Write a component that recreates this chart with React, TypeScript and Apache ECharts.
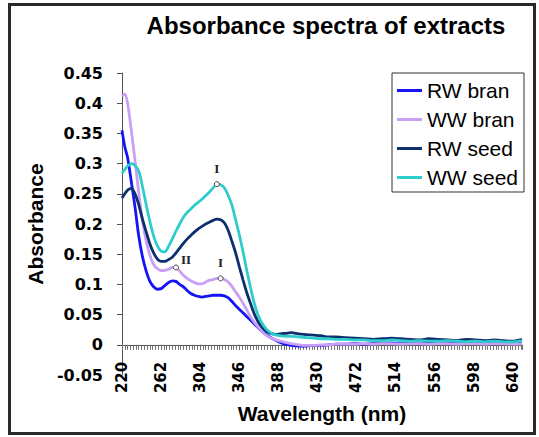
import React, { useEffect, useRef } from "react";
import * as echarts from "echarts";

const wavelengths = [
  220, 223, 226, 230, 234, 238, 242, 246, 250, 254, 258, 262, 266, 270, 274, 278, 282, 286, 290, 294,
  298, 302, 306, 310, 314, 318, 322, 326, 330, 334, 338, 342, 346, 350, 354, 358, 362, 366, 370, 374,
  378, 382, 386, 390, 396, 402, 410, 418, 426, 434, 442, 450, 460, 470, 480, 490, 500, 510, 520, 530,
  540, 550, 560, 570, 580, 590, 600, 610, 620, 630, 640, 650,
];

const rwBran = [
  0.355, 0.328, 0.31, 0.27, 0.228, 0.18, 0.146, 0.122, 0.105, 0.096, 0.092, 0.093, 0.098, 0.103, 0.106, 0.105, 0.1, 0.096, 0.09, 0.085,
  0.082, 0.08, 0.079, 0.08, 0.081, 0.082, 0.082, 0.082, 0.081, 0.078, 0.072, 0.065, 0.059, 0.053, 0.047, 0.041, 0.035, 0.029, 0.023, 0.018,
  0.014, 0.01, 0.007, 0.004, 0.001, -0.001, -0.002, -0.002, -0.001, -0.001, 0.0, 0.001, 0.001, 0.002, 0.001, 0.002, 0.002, 0.003, 0.002, 0.003,
  0.002, 0.003, 0.002, 0.003, 0.002, 0.003, 0.002, 0.003, 0.002, 0.003, 0.002, 0.003,
];

const wwBran = [
  0.412, 0.415, 0.4, 0.355, 0.305, 0.252, 0.205, 0.172, 0.148, 0.133, 0.126, 0.123, 0.123, 0.125, 0.128, 0.128, 0.122, 0.115, 0.11, 0.106,
  0.103, 0.101, 0.101, 0.104, 0.107, 0.108, 0.11, 0.11, 0.108, 0.104, 0.097, 0.088, 0.079, 0.069, 0.058, 0.047, 0.038, 0.03, 0.023, 0.017,
  0.013, 0.01, 0.008, 0.006, 0.004, 0.002, 0.0, -0.001, -0.001, 0.0, 0.0, 0.001, 0.001, 0.001, 0.002, 0.001, 0.002, 0.002, 0.001, 0.002,
  0.002, 0.001, 0.002, 0.002, 0.001, 0.002, 0.002, 0.001, 0.002, 0.002, 0.001, 0.002,
];

const rwSeed = [
  0.243, 0.25, 0.256, 0.259, 0.25, 0.232, 0.208, 0.187, 0.167, 0.152, 0.142, 0.138, 0.138, 0.141, 0.145, 0.152, 0.16, 0.168, 0.175, 0.181,
  0.187, 0.192, 0.196, 0.2, 0.203, 0.206, 0.208, 0.207, 0.202, 0.19, 0.172, 0.153, 0.13, 0.108, 0.087, 0.069, 0.052, 0.039, 0.03, 0.024,
  0.02, 0.018, 0.017, 0.018, 0.019, 0.02, 0.018, 0.017, 0.016, 0.015, 0.013, 0.013, 0.012, 0.011, 0.01, 0.009, 0.01, 0.011, 0.01, 0.009,
  0.008, 0.01, 0.009, 0.008, 0.007, 0.009, 0.008, 0.007, 0.008, 0.007, 0.006, 0.009,
];

const wwSeed = [
  0.284, 0.29, 0.296, 0.3, 0.297, 0.288, 0.262, 0.232, 0.204, 0.18, 0.164, 0.155, 0.154, 0.163, 0.175, 0.188, 0.2, 0.211, 0.219, 0.225,
  0.231, 0.236, 0.241, 0.247, 0.253, 0.26, 0.266, 0.265, 0.26, 0.248, 0.232, 0.208, 0.183, 0.155, 0.124, 0.096, 0.07, 0.05, 0.037, 0.028,
  0.022, 0.018, 0.016, 0.015, 0.014, 0.014, 0.013, 0.012, 0.011, 0.01, 0.01, 0.009, 0.009, 0.008, 0.008, 0.007, 0.007, 0.008, 0.007, 0.006,
  0.007, 0.006, 0.006, 0.007, 0.006, 0.005, 0.006, 0.005, 0.006, 0.005, 0.005, 0.007,
];

const seriesNames = ["RW bran", "WW bran", "RW seed", "WW seed"];
const seriesColors = ["#1414f5", "#c9a0f5", "#0c2f6e", "#2fcccc"];

// peak markers: series index, wavelength, absorbance, label
const peakSeries = [3, 1, 1];
const peakWavelengths = [322, 278, 326];
const peakValues = [0.266, 0.128, 0.11];
const peakLabels = ["I", "II", "I"];

const xTickLabels = [220, 262, 304, 346, 388, 430, 472, 514, 556, 598, 640];
const yTicks = [-0.05, 0, 0.05, 0.1, 0.15, 0.2, 0.25, 0.3, 0.35, 0.4, 0.45];

const GRID_TOP = 73;
const GRID_H = 302;

export default function App() {
  const ref = useRef<HTMLDivElement>(null);
  useEffect(() => {
    if (!ref.current) return;
    const chart = echarts.init(ref.current, null, { renderer: "svg" });
    const allData = [rwBran, wwBran, rwSeed, wwSeed];
    const tickFont = { fontFamily: "DejaVu Sans", fontWeight: "bold" as const, color: "#000" };

    const yMin = yTicks[0];
    const yMax = yTicks[yTicks.length - 1];
    const zeroFromBottom = ((0 - yMin) / (yMax - yMin)) * GRID_H;
    const zeroFromTop = GRID_H - zeroFromBottom;

    const series = allData.map((vals, si) => {
      const marks = peakSeries
        .map((s, k) => ({ s, k }))
        .filter((m) => m.s === si)
        .map(({ k }) => ({
          coord: [peakWavelengths[k], peakValues[k]],
          value: peakLabels[k],
          label: peakLabels[k] === "II"
            ? { position: "right", distance: 3, offset: [-1, -8] }
            : { position: "top", distance: 6 },
        }));
      return {
        name: seriesNames[si],
        type: "line",
        data: wavelengths.map((w, i) => [w, vals[i]]),
        showSymbol: false,
        smooth: 0.3,
        lineStyle: { width: 2.8, color: seriesColors[si] },
        itemStyle: { color: seriesColors[si] },
        markPoint: marks.length
          ? {
              symbol: "circle",
              symbolSize: 5,
              itemStyle: { color: "#ffffff", borderColor: "#444", borderWidth: 1 },
              label: {
                show: true,
                formatter: (p: any) => p.value,
                fontFamily: "Liberation Serif",
                fontWeight: "bold",
                fontSize: 13,
                color: "#222",
              },
              data: marks,
            }
          : undefined,
      };
    });

    chart.setOption({
      animation: false,
      backgroundColor: "#ffffff",
      graphic: [
        {
          type: "rect",
          shape: { x: 9.5, y: 4.5, width: 525, height: 429 },
          style: { fill: "none", stroke: "#2a2a2a", lineWidth: 3 },
          z: -1,
        },
        {
          type: "text",
          x: 326,
          y: 13,
          style: {
            text: "Absorbance spectra of extracts",
            fontFamily: "Liberation Sans",
            fontWeight: "bold",
            fontSize: 24,
            fill: "#000",
            align: "center",
            verticalAlign: "top",
          },
        },
      ],
      legend: {
        data: seriesNames,
        orient: "vertical",
        left: 392,
        top: 73,
        padding: [7, 6, 4, 5],
        itemGap: 8,
        itemWidth: 25,
        itemHeight: 3,
        icon: "rect",
        borderColor: "#333",
        borderWidth: 1,
        textStyle: { fontFamily: "Liberation Sans", fontSize: 21, color: "#000" },
      },
      grid: { left: 122, top: GRID_TOP, width: 400, height: GRID_H, containLabel: false, outerBoundsMode: "none" },
      xAxis: [
        {
          type: "value",
          position: "bottom",
          offset: -zeroFromBottom,
          min: xTickLabels[0],
          max: 650,
          interval: xTickLabels[1] - xTickLabels[0],
          name: "Wavelength (nm)",
          nameLocation: "middle",
          nameGap: 58,
          nameTextStyle: { fontFamily: "Liberation Sans", fontWeight: "bold", fontSize: 21, color: "#000" },
          axisLine: { onZero: false, lineStyle: { color: "#555", width: 1 } },
          axisTick: { show: true, length: 5, lineStyle: { color: "#555" } },
          axisLabel: {
            rotate: 90,
            margin: 17,
            fontSize: 15,
            showMaxLabel: false,
            ...tickFont,
          },
          splitLine: { show: false },
        },
        {
          type: "value",
          position: "top",
          offset: -zeroFromTop,
          min: xTickLabels[0],
          max: 650,
          interval: 3,
          axisLine: { show: false, onZero: false },
          axisTick: { show: true, inside: true, length: 5, lineStyle: { color: "#6f6f6f" } },
          axisLabel: { show: false },
          splitLine: { show: false },
        },
      ],
      yAxis: {
        type: "value",
        min: yMin,
        max: yMax,
        interval: 0.05,
        name: "Absorbance",
        nameLocation: "middle",
        nameGap: 72,
        nameTextStyle: { fontFamily: "Liberation Sans", fontWeight: "bold", fontSize: 21, color: "#000" },
        axisLine: { show: true, onZero: false, lineStyle: { color: "#555", width: 1 } },
        axisTick: { show: true, length: 5, lineStyle: { color: "#555" } },
        axisLabel: {
          margin: 19,
          fontSize: 16,
          formatter: (v: number) => String(parseFloat(v.toFixed(2))),
          ...tickFont,
        },
        splitLine: { show: false },
      },
      series,
    });
    return () => chart.dispose();
  }, []);
  return (
    <div
      ref={ref}
      style={{ position: "absolute", left: 0, top: 0, width: 539, height: 437 }}
    />
  );
}
